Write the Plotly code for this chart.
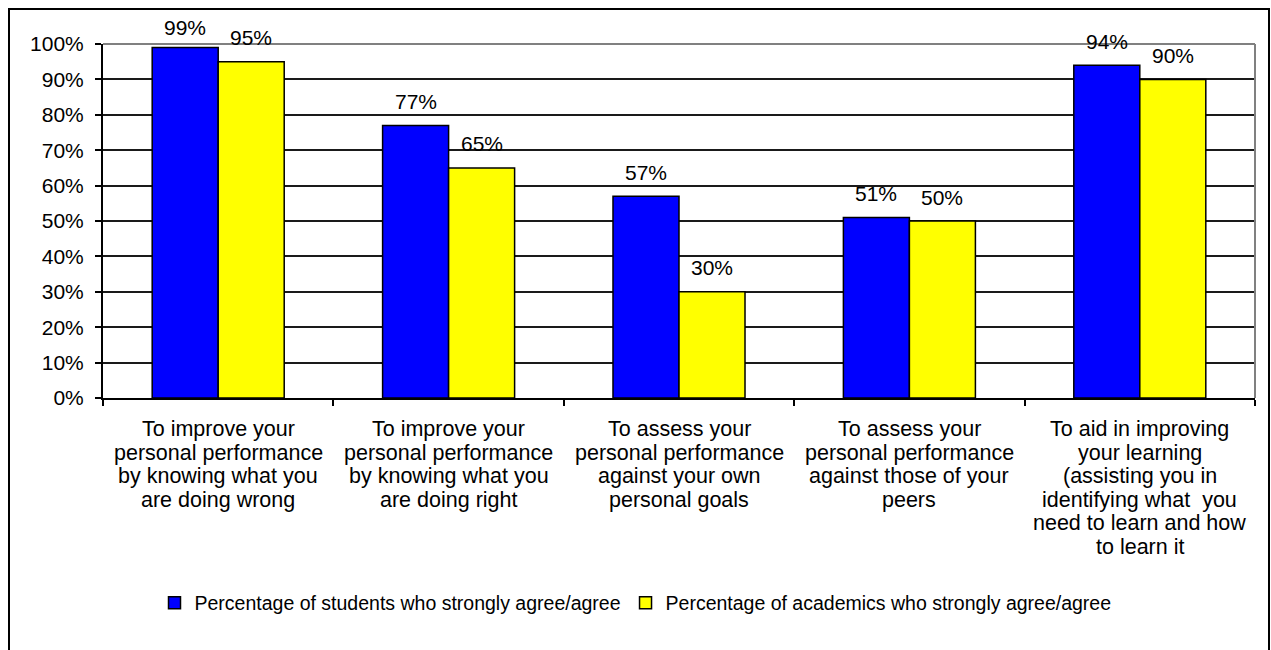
import plotly.graph_objects as go

# ---------------- data ----------------
category_lines = [
    ["To improve your", "personal performance", "by knowing what you", "are doing wrong"],
    ["To improve your", "personal performance", "by knowing what you", "are doing right"],
    ["To assess your", "personal performance", "against your own", "personal goals"],
    ["To assess your", "personal performance", "against those of your", "peers"],
    ["To aid in improving", "your learning", "(assisting you in", "identifying what\u00a0 you",
     "need to learn and how", "to learn it"],
]
categories = [" ".join(lines) for lines in category_lines]
students = [0.99, 0.77, 0.57, 0.51, 0.94]
academics = [0.95, 0.65, 0.30, 0.50, 0.90]
series_names = [
    "Percentage of students who strongly agree/agree",
    "Percentage of academics who strongly agree/agree",
]

# ---------------- layout constants ----------------
W, H = 1271, 650
L, R, T, B = 103, 16, 44, 252
pw, ph = W - L - R, H - T - B
bargap = 0.427
bar_px = pw / len(categories) * (1 - bargap) / 2
FONT = "Liberation Sans, Arial, sans-serif"
FS = 21
LINE_H = 23.6

fig = go.Figure()
fig.add_bar(x=categories, y=students, name=series_names[0],
            marker=dict(color="#0000FF", line=dict(color="#000000", width=1.5)))
fig.add_bar(x=categories, y=academics, name=series_names[1],
            marker=dict(color="#FFFF00", line=dict(color="#000000", width=1.5)))

annotations = []
# data labels
for vals, sign in ((students, -1), (academics, 1)):
    for c, v in zip(categories, vals):
        shift = min(24, ph * (1 - v) + 16.5)
        annotations.append(dict(
            x=c, y=v, xref="x", yref="y", text=f"{round(v * 100)}%",
            showarrow=False, xanchor="center", yanchor="middle",
            xshift=sign * bar_px / 2, yshift=shift,
            font=dict(family=FONT, size=FS, color="#000000")))
# category labels, line by line
for c, lines in zip(categories, category_lines):
    for k, line in enumerate(lines):
        annotations.append(dict(
            x=c, y=0, xref="x", yref="paper", text=line, showarrow=False,
            xanchor="center", yanchor="middle", yshift=-(31 + k * LINE_H),
            font=dict(family=FONT, size=21.5, color="#000000")))

shapes = [
    # outer chart frame
    dict(type="rect", xref="paper", yref="paper",
         x0=(9 - L) / pw, x1=(1269 - L) / pw,
         y0=1 - (662 - T) / ph, y1=1 + (T - 9) / ph,
         line=dict(color="#000000", width=2), layer="above"),
    # plot area border (top and right, grey)
    dict(type="line", xref="paper", yref="paper", x0=0, x1=1, y0=1, y1=1,
         line=dict(color="#808080", width=2), layer="above"),
    dict(type="line", xref="paper", yref="paper", x0=1, x1=1, y0=0, y1=1,
         line=dict(color="#808080", width=2), layer="above"),
]

fig.update_layout(
    width=W, height=H, autosize=False,
    margin=dict(l=L, r=R, t=T, b=B, pad=0),
    paper_bgcolor="#FFFFFF", plot_bgcolor="#FFFFFF",
    font=dict(family=FONT, size=FS, color="#000000"),
    barmode="group", bargap=bargap, bargroupgap=0,
    showlegend=True,
    legend=dict(orientation="h", xref="container", yref="container",
                x=0.5, xanchor="center", y=1 - 603 / H, yanchor="middle",
                font=dict(family=FONT, size=19.5, color="#000000"),
                itemwidth=30, traceorder="normal", bgcolor="rgba(0,0,0,0)"),
    annotations=annotations,
    shapes=shapes,
)
fig.update_xaxes(type="category", showticklabels=False, ticks="outside",
                 tickson="boundaries", ticklen=6, tickwidth=2, tickcolor="#000000",
                 showline=True, linecolor="#000000", linewidth=2,
                 showgrid=False, zeroline=False, fixedrange=True)
fig.update_yaxes(range=[0, 1], dtick=0.1, tickformat=".0%", ticks="outside",
                 ticklen=6, tickwidth=2, tickcolor="#000000",
                 ticklabelstandoff=7,
                 showline=True, linecolor="#000000", linewidth=2,
                 showgrid=True, gridcolor="#1a1a1a", gridwidth=2,
                 zeroline=False, fixedrange=True,
                 tickfont=dict(family=FONT, size=FS, color="#000000"))

fig.write_html("out.html")
